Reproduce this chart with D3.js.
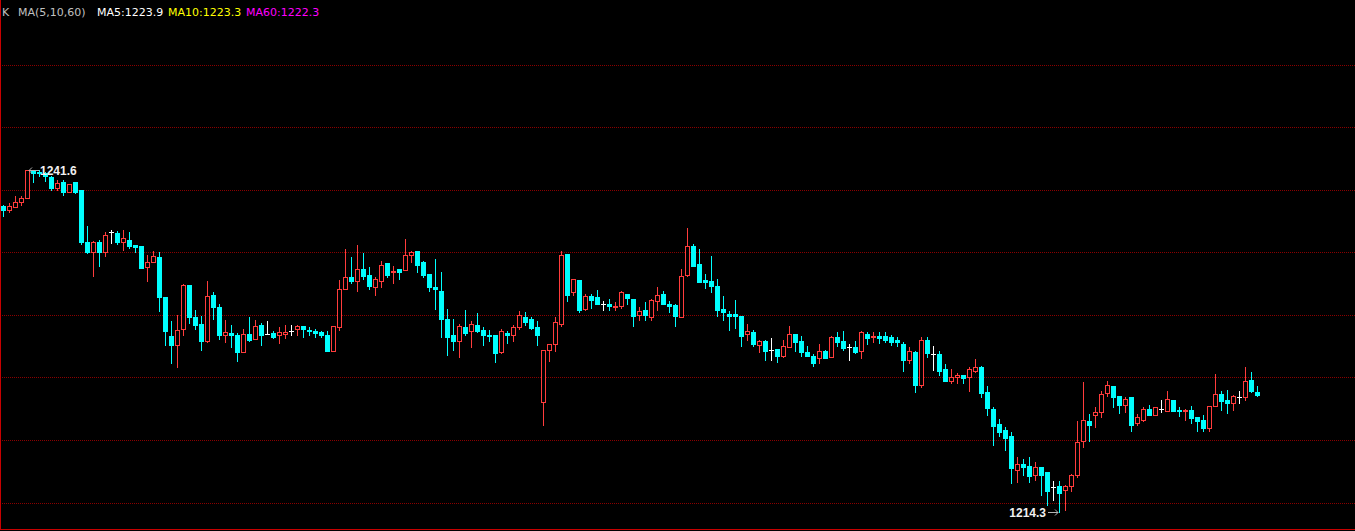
<!DOCTYPE html>
<html>
<head>
<meta charset="utf-8">
<script src="https://cdn.jsdelivr.net/npm/d3@7"></script>
<style>
html,body{margin:0;padding:0;background:#000;overflow:hidden;}
svg{display:block;}
</style>
</head>
<body>
<div id="chart"></div>
<script>
// ---- data ----
const opens = [1238.71,1238.39,1238.63,1239.03,1239.35,1241.60,1241.48,1241.37,1241.05,1240.15,
1240.63,1239.83,1240.63,1239.99,1235.83,1235.08,1235.88,1235.08,1236.63,1236.57,
1235.88,1236.04,1235.61,1235.56,1233.83,1234.25,1234.68,1231.48,1228.33,1227.59,
1228.87,1232.44,1229.88,1229.29,1227.96,1231.64,1230.68,1228.39,1228.55,1228.44,
1227.11,1228.49,1228.07,1229.24,1228.49,1228.55,1228.39,1228.49,1228.76,1228.87,
1229.13,1228.81,1228.76,1228.65,1228.44,1227.16,1229.03,1232.07,1233.08,1232.76,
1233.67,1233.19,1232.28,1232.71,1234.15,1233.45,1233.67,1233.61,1234.79,1235.11,
1234.25,1233.29,1232.28,1231.96,1229.72,1228.44,1227.91,1229.08,1228.71,1229.24,
1228.81,1228.44,1228.44,1227.11,1228.55,1228.39,1229.03,1229.88,1229.72,1229.08,
1223.05,1227.21,1227.69,1229.29,1234.89,1231.85,1232.84,1230.49,1231.56,1231.45,
1230.87,1230.92,1230.65,1230.71,1231.72,1231.29,1230.01,1230.44,1229.85,1231.13,
1231.72,1230.92,1230.81,1229.85,1233.21,1235.56,1234.12,1232.84,1232.73,1232.36,
1230.49,1230.12,1230.07,1229.91,1228.47,1228.68,1227.61,1227.93,1227.24,1227.29,
1226.76,1227.45,1228.52,1227.93,1227.08,1226.76,1226.60,1227.19,1226.71,1228.25,
1227.93,1227.45,1227.45,1227.19,1228.52,1228.25,1228.36,1228.36,1228.25,1227.99,
1227.72,1226.44,1227.08,1224.41,1228.04,1226.92,1226.92,1225.69,1224.79,1225.11,
1225.21,1225.05,1225.59,1225.85,1223.88,1222.49,1221.32,1220.84,1220.36,1217.64,
1218.12,1217.96,1217.21,1217.85,1217.48,1216.25,1216.36,1216.04,1216.36,1217.21,
1219.99,1221.59,1222.07,1222.28,1223.83,1224.36,1223.56,1222.87,1223.45,1221.43,
1221.64,1222.49,1222.01,1222.49,1222.39,1223.24,1222.44,1222.33,1222.44,1221.85,
1221.64,1221.00,1222.76,1223.72,1223.24,1223.03,1223.51,1223.51,1224.84,1223.88];

const highs = [1238.84,1238.97,1239.56,1239.56,1241.60,1241.60,1241.60,1241.43,1241.16,1240.79,
1240.79,1240.47,1240.63,1239.99,1237.11,1235.93,1236.04,1236.63,1236.79,1236.73,
1236.79,1236.68,1235.61,1235.56,1234.84,1235.16,1235.05,1231.48,1229.56,1229.99,
1232.49,1232.44,1230.41,1229.93,1232.76,1231.85,1230.89,1229.61,1229.24,1228.55,
1228.92,1229.88,1229.61,1229.35,1229.56,1228.76,1229.08,1229.24,1229.24,1229.24,
1229.13,1229.08,1228.87,1228.71,1228.76,1229.13,1232.81,1235.27,1234.68,1235.59,
1234.95,1233.88,1233.08,1234.36,1234.15,1233.93,1233.67,1236.07,1235.11,1235.11,
1234.36,1233.29,1234.52,1233.45,1230.52,1229.72,1229.29,1230.41,1229.56,1230.15,
1229.08,1228.81,1228.44,1228.92,1228.76,1229.19,1230.36,1230.25,1229.88,1229.56,
1227.21,1227.69,1229.83,1235.11,1234.89,1232.92,1232.84,1231.67,1231.72,1231.99,
1231.13,1231.29,1231.08,1231.93,1231.72,1231.29,1230.65,1231.08,1231.29,1232.25,
1231.93,1231.13,1230.92,1233.69,1237.00,1235.67,1235.29,1233.32,1234.76,1232.89,
1231.51,1230.33,1231.24,1229.96,1229.32,1228.79,1228.04,1228.04,1228.15,1227.29,
1227.99,1229.11,1228.52,1228.31,1227.51,1226.92,1227.67,1227.24,1228.36,1228.68,
1228.73,1227.72,1227.93,1228.73,1228.63,1228.68,1228.68,1228.68,1228.41,1228.25,
1227.88,1227.45,1227.19,1228.25,1228.25,1227.56,1227.13,1226.12,1225.69,1225.37,
1225.21,1225.85,1226.49,1225.96,1224.36,1222.65,1221.75,1221.05,1220.68,1218.65,
1218.55,1218.65,1218.28,1217.91,1217.48,1216.73,1216.73,1216.47,1217.32,1221.53,
1224.68,1222.12,1222.71,1223.93,1224.73,1224.36,1223.56,1223.45,1223.45,1222.12,
1222.65,1222.81,1222.65,1223.24,1223.93,1223.24,1222.65,1222.55,1222.76,1221.85,
1222.01,1222.76,1225.32,1223.93,1224.04,1223.67,1223.93,1225.91,1225.48,1224.36];

const lows = [1237.91,1238.23,1238.63,1238.81,1239.35,1240.63,1241.11,1240.73,1239.99,1239.99,
1239.61,1239.83,1239.77,1235.72,1234.97,1233.16,1233.96,1234.76,1235.77,1235.72,
1235.24,1235.40,1235.08,1233.80,1232.76,1234.25,1230.31,1227.59,1226.20,1225.88,
1228.39,1229.40,1228.87,1227.27,1227.85,1229.67,1228.07,1227.85,1227.48,1226.36,
1227.11,1227.91,1228.07,1227.59,1228.49,1228.17,1227.80,1228.17,1228.39,1228.44,
1228.23,1228.44,1228.23,1228.28,1227.16,1227.16,1228.81,1232.07,1232.60,1231.96,
1232.87,1232.07,1231.64,1232.28,1233.03,1232.60,1232.87,1233.61,1234.25,1233.45,
1233.03,1231.96,1230.47,1228.23,1226.84,1227.27,1226.68,1228.39,1227.48,1228.65,
1227.64,1227.96,1226.31,1227.00,1227.80,1227.91,1228.87,1229.24,1228.87,1227.64,
1221.24,1226.36,1227.16,1229.13,1231.16,1231.59,1230.23,1230.44,1230.60,1230.87,
1230.44,1230.44,1230.39,1230.60,1230.87,1229.11,1229.64,1229.64,1229.59,1230.39,
1230.87,1230.23,1229.16,1229.85,1233.11,1233.96,1232.68,1232.20,1231.83,1229.96,
1229.64,1228.79,1229.00,1227.56,1227.99,1227.51,1227.08,1226.44,1226.44,1226.28,
1226.71,1227.45,1227.19,1226.76,1226.76,1225.96,1226.23,1226.60,1226.71,1227.56,
1227.24,1226.44,1227.03,1226.60,1227.67,1227.88,1227.77,1227.83,1227.61,1227.56,
1225.53,1226.23,1223.88,1224.31,1226.65,1225.64,1225.21,1224.79,1224.63,1224.63,
1224.63,1223.99,1225.48,1223.51,1222.07,1219.67,1220.36,1219.24,1216.63,1216.68,
1217.27,1216.68,1216.84,1215.67,1214.87,1215.24,1214.30,1214.44,1215.99,1217.11,
1219.51,1219.99,1221.11,1221.91,1223.56,1222.71,1222.23,1222.28,1220.79,1221.27,
1221.59,1222.07,1222.01,1222.28,1222.39,1222.39,1221.96,1221.64,1221.37,1220.79,
1220.79,1220.79,1222.76,1222.44,1222.23,1222.44,1223.03,1223.24,1223.88,1223.56];

const closes = [1238.39,1238.76,1239.08,1239.40,1241.60,1241.37,1241.37,1241.11,1240.15,1240.57,
1239.88,1240.47,1239.88,1235.83,1235.08,1235.83,1235.08,1236.41,1236.63,1235.88,
1236.20,1235.56,1235.45,1233.80,1234.25,1234.73,1231.48,1228.71,1227.64,1228.81,
1232.44,1229.88,1229.19,1227.96,1231.53,1230.63,1228.44,1228.65,1228.39,1227.11,
1228.49,1228.01,1229.13,1228.39,1228.49,1228.28,1228.65,1228.65,1228.76,1229.13,
1228.87,1228.71,1228.60,1228.39,1227.16,1229.13,1232.12,1233.08,1232.76,1233.72,
1233.13,1232.33,1232.87,1234.04,1233.24,1233.56,1233.45,1234.84,1235.05,1234.04,
1233.24,1232.23,1232.07,1229.67,1228.28,1227.91,1229.13,1228.60,1229.29,1228.71,
1228.39,1228.33,1227.00,1228.76,1228.39,1229.08,1229.99,1229.45,1228.97,1228.39,
1227.21,1227.69,1229.45,1234.84,1231.64,1232.92,1230.44,1231.56,1231.24,1230.87,
1230.87,1230.71,1230.76,1231.88,1231.40,1229.91,1230.33,1230.01,1231.19,1231.61,
1230.87,1230.71,1229.91,1233.11,1235.51,1233.96,1232.68,1232.68,1232.31,1230.39,
1230.23,1229.91,1229.91,1228.36,1228.73,1227.67,1227.93,1227.19,1227.24,1226.76,
1227.56,1228.52,1227.83,1227.08,1226.76,1226.23,1227.13,1226.60,1228.25,1227.88,
1227.40,1227.45,1227.08,1228.68,1228.20,1228.36,1228.20,1228.04,1227.88,1227.83,
1226.44,1227.13,1224.47,1228.04,1227.03,1226.92,1225.59,1224.79,1225.11,1225.21,
1225.00,1225.69,1225.85,1223.83,1222.60,1221.16,1220.68,1220.20,1217.80,1218.12,
1217.85,1217.16,1217.85,1217.21,1215.99,1216.25,1215.83,1216.36,1217.21,1219.88,
1221.64,1221.27,1222.28,1223.72,1224.41,1223.51,1222.87,1223.29,1221.27,1221.85,
1222.49,1222.07,1222.65,1222.49,1223.29,1222.39,1222.33,1222.44,1221.80,1221.59,
1221.00,1222.76,1223.72,1223.19,1223.03,1223.56,1223.51,1224.73,1223.93,1223.67];

const gridLevels = [1215, 1220, 1225, 1230, 1235, 1240, 1245, 1250];

const legendItems = [
  {text: "K", color: "#c0c0c0", x: 2},
  {text: "MA(5,10,60)", color: "#c0c0c0", x: 18},
  {text: "MA5:1223.9", color: "#ffffff", x: 97},
  {text: "MA10:1223.3", color: "#ffff00", x: 168},
  {text: "MA60:1222.3", color: "#ff00ff", x: 246}
];

// ---- drawing ----
const W = 1355, H = 531;
const UP = "#ff3c3c", DOWN = "#00ffff", DOJI = "#ffffff";

const svg = d3.select("#chart").append("svg")
  .attr("width", W).attr("height", H)
  .style("background", "#000");

const n = closes.length;
const x = d3.scaleLinear().domain([0, n - 1]).range([3, 1257]);
const y = d3.scaleLinear().domain([1215, 1240]).range([503.05, 190.2]);

// grid
svg.append("g").selectAll("line").data(gridLevels).join("line")
  .attr("x1", 2).attr("x2", W)
  .attr("y1", d => Math.floor(y(d)) + 0.5)
  .attr("y2", d => Math.floor(y(d)) + 0.5)
  .attr("stroke", "#8a0000")
  .attr("stroke-width", 1)
  .attr("stroke-dasharray", "1,1");

// frame (left and bottom)
svg.append("line").attr("x1", 0.5).attr("x2", 0.5).attr("y1", 0).attr("y2", 530)
  .attr("stroke", "#c80000");
svg.append("line").attr("x1", 0).attr("x2", W).attr("y1", 529.5).attr("y2", 529.5)
  .attr("stroke", "#c80000");

// candles
const data = d3.range(n).map(i => ({i, o: opens[i], h: highs[i], l: lows[i], c: closes[i]}));
const g = svg.append("g").attr("shape-rendering", "crispEdges");

data.forEach(d => {
  const cx = Math.round(x(d.i));
  const wx = cx + 0.5;
  const yH = Math.round(y(d.h)), yL = Math.round(y(d.l));
  const yO = Math.round(y(d.o)), yC = Math.round(y(d.c));
  const top = Math.min(yO, yC), bot = Math.max(yO, yC);
  if (d.c > d.o) {
    const bh = Math.max(1, bot - top);
    if (yH < top) g.append("line").attr("x1", wx).attr("x2", wx).attr("y1", yH).attr("y2", top).attr("stroke", UP);
    if (yL > bot) g.append("line").attr("x1", wx).attr("x2", wx).attr("y1", bot).attr("y2", yL + 1).attr("stroke", UP);
    g.append("rect").attr("x", cx - 1.5).attr("y", top + 0.5).attr("width", 4).attr("height", bh)
      .attr("fill", "#000").attr("stroke", UP).attr("stroke-width", 1);
  } else if (d.c < d.o) {
    g.append("line").attr("x1", wx).attr("x2", wx).attr("y1", yH).attr("y2", yL + 1).attr("stroke", DOWN);
    g.append("rect").attr("x", cx - 2).attr("y", top).attr("width", 5).attr("height", Math.max(2, bot - top + 1))
      .attr("fill", DOWN);
  } else {
    g.append("line").attr("x1", wx).attr("x2", wx).attr("y1", yH).attr("y2", yL + 1).attr("stroke", DOJI);
    g.append("line").attr("x1", cx - 2).attr("x2", cx + 3).attr("y1", yO + 0.5).attr("y2", yO + 0.5).attr("stroke", DOJI);
  }
});

// high / low markers
const hi = d3.maxIndex(highs), lo = d3.minIndex(lows);
const arrowColor = "#b4b4b4";
const labelFont = "bold 12px 'Liberation Sans', Arial, sans-serif";

(function () {
  const ax = Math.round(x(hi)) + 2, ay = Math.round(y(highs[hi])) + 0.5;
  svg.append("path")
    .attr("d", `M${ax},${ay}H${ax + 10}M${ax + 3},${ay - 3}L${ax},${ay}L${ax + 3},${ay + 3}`)
    .attr("stroke", arrowColor).attr("fill", "none");
  svg.append("text").attr("x", ax + 11).attr("y", ay).attr("dy", "0.36em")
    .style("font", labelFont).attr("fill", "#f0f0f0").text(highs[hi].toFixed(1));
})();

(function () {
  const ax = Math.round(x(lo)) - 1, ay = Math.round(y(lows[lo])) + 0.5;
  svg.append("path")
    .attr("d", `M${ax},${ay}H${ax - 10}M${ax - 3},${ay - 3}L${ax},${ay}L${ax - 3},${ay + 3}`)
    .attr("stroke", arrowColor).attr("fill", "none");
  svg.append("text").attr("x", ax - 12).attr("y", ay).attr("dy", "0.36em")
    .attr("text-anchor", "end")
    .style("font", labelFont).attr("fill", "#f0f0f0").text(lows[lo].toFixed(1));
})();

// legend
svg.append("g").selectAll("text").data(legendItems).join("text")
  .attr("x", d => d.x).attr("y", 16)
  .style("font", "11px 'DejaVu Sans', Verdana, sans-serif")
  .attr("fill", d => d.color)
  .text(d => d.text);
</script>
</body>
</html>
